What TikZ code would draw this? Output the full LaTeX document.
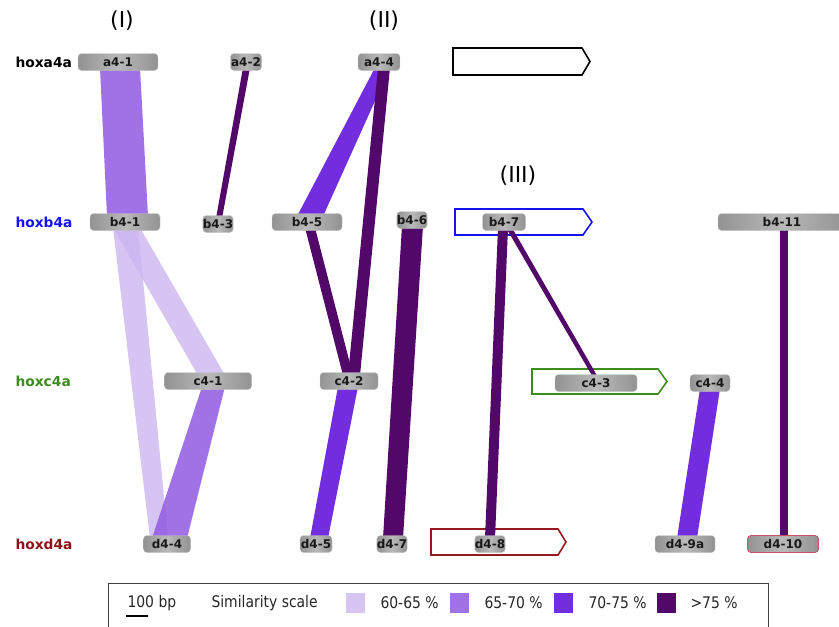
\documentclass[tikz,border=0pt]{standalone}
\usepackage{fontspec}
\setmainfont{DejaVu Sans}
\newfontfamily\legfont[FakeStretch=0.87]{DejaVu Sans}
\usetikzlibrary{calc}
\definecolor{sA}{RGB}{214,196,242}
\definecolor{sB}{RGB}{160,114,230}
\definecolor{sC}{RGB}{114,46,222}
\definecolor{sD}{RGB}{82,8,105}
\definecolor{sAb}{RGB}{204,181,240}
\definecolor{sBb}{RGB}{144,89,226}
\definecolor{hoxb}{RGB}{20,20,240}
\definecolor{hoxc}{RGB}{60,140,30}
\definecolor{hoxd}{RGB}{140,20,25}
\definecolor{redbox}{RGB}{150,25,30}
\definecolor{d410c}{RGB}{200,80,110}
\pgfdeclarelayer{outline}
\pgfdeclarelayer{bands}
\pgfsetlayers{outline,bands,main}
\newcommand{\simband}[7]{%
  \fill[#7] ([xshift=#2pt,yshift=3pt]#1.south) -- ([xshift=#3pt,yshift=3pt]#1.south)
    -- ([xshift=#6pt,yshift=-3pt]#4.north) -- ([xshift=#5pt,yshift=-3pt]#4.north) -- cycle;}
\tikzset{
  gene/.style={rounded corners=3.5pt, minimum height=17pt, inner xsep=0pt, inner ysep=0pt,
    draw=gray!45, left color=gray!85, right color=gray!85, middle color=gray!55,
    font=\bfseries\fontsize{12}{13}\selectfont, text=black!90},
  rowlab/.style={anchor=west, font=\bfseries\fontsize{13.8}{15}\selectfont},
  head/.style={font=\fontsize{22}{24}\selectfont},
  bandA/.style={fill=sAb, fill opacity=0.8},
  bandB/.style={fill=sBb, fill opacity=0.85},
  bandC/.style={fill=sC},
  bandD/.style={fill=sD},
  outl/.style={line width=1.6pt, line join=miter},
  leg/.style={anchor=west, font=\legfont\fontsize{16}{18}\selectfont, text=black!85},
  swatch/.style={minimum width=19pt, minimum height=20pt, inner sep=0pt}
}
\begin{document}
\begin{tikzpicture}[x=1pt,y=-1pt]
\useasboundingbox (0,0) rectangle (839,627);

% headers
\node[head] (h1) at (122,21) {(I)};
\node[head] (h2) at (384,21) {(II)};
\node[head] (h3) at (518,176) {(III)};

% row labels
\node[rowlab] (la) at (12,62) {hoxa4a};
\node[rowlab, text=hoxb] (lb) at (12,222) {hoxb4a};
\node[rowlab, text=hoxc] (lc) at (12,381) {hoxc4a};
\node[rowlab, text=hoxd] (ld) at (12,544) {hoxd4a};

% hollow gene arrows
\begin{pgfonlayer}{outline}
\draw[outl, black] (453,48) -- (582,48) -- (590,61.5) -- (582,75) -- (453,75) -- cycle;
\draw[outl, hoxb] (455,209) -- (583,209) -- (592,222) -- (583,235) -- (455,235) -- cycle;
\draw[outl, hoxc] (532,369) -- (658,369) -- (667,381.5) -- (658,394) -- (532,394) -- cycle;
\draw[outl, redbox] (431,529) -- (558,529) -- (566,542) -- (558,555) -- (431,555) -- cycle;
\end{pgfonlayer}

% gene boxes
\node[gene, minimum width=80pt] (a41) at (118,62) {a4-1};
\node[gene, minimum width=31pt] (a42) at (246,62) {a4-2};
\node[gene, minimum width=42pt] (a44) at (379,62) {a4-4};

\node[gene, minimum width=70pt] (b41) at (125,222) {b4-1};
\node[gene, minimum width=28pt] (b43) at (218,224) {b4-3};
\node[gene, minimum width=70pt] (b45) at (307,222) {b4-5};
\node[gene, minimum width=30pt] (b46) at (412,220) {b4-6};
\node[gene, minimum width=43pt] (b47) at (504,222) {b4-7};
\node[gene, minimum width=128pt] (b411) at (782,222) {b4-11};

\node[gene, minimum width=87pt] (c41) at (208,381) {c4-1};
\node[gene, minimum width=58pt] (c42) at (349,381) {c4-2};
\node[gene, minimum width=82pt] (c43) at (596,383) {c4-3};
\node[gene, minimum width=40pt] (c44) at (710,383) {c4-4};

\node[gene, minimum width=47pt] (d44) at (167,544) {d4-4};
\node[gene, minimum width=32pt] (d45) at (316,544) {d4-5};
\node[gene, minimum width=30pt] (d47) at (392,544) {d4-7};
\node[gene, minimum width=26pt] (d48) at (490,544) {d4-8};
\node[gene, minimum width=60pt] (d49a) at (685,544) {d4-9a};
\node[gene, minimum width=71pt, draw=d410c, line width=0.8pt] (d410) at (783,544) {d4-10};

% similarity bands
\begin{pgfonlayer}{bands}
\simband{b41}{-12}{15}{c41}{-10}{17}{bandA}
\simband{b41}{-12}{13}{d44}{-17}{1}{bandA}
\simband{a41}{-18}{22}{b41}{-18}{23}{bandB}
\simband{c41}{-6}{17}{d44}{-15}{20}{bandB}
\simband{a44}{-4}{11}{b45}{-10}{16}{bandC}
\simband{c42}{-11}{9}{d45}{-6}{12}{bandC}
\simband{c44}{-10}{10}{d49a}{-8}{12}{bandC}
\simband{a42}{-3}{4}{b43}{-2}{4}{bandD}
\simband{a44}{-1}{11}{c42}{-1}{11}{bandD}
\simband{b45}{-2}{8}{c42}{-6}{4}{bandD}
\simband{b46}{-10}{11}{d47}{-9}{11}{bandD}
\simband{b47}{-6}{4}{d48}{-5}{5}{bandD}
\simband{b47}{2}{8}{c43}{-3}{2}{bandD}
\simband{b411}{-2}{6}{d410}{-3}{5}{bandD}
\end{pgfonlayer}

% legend
\draw[line width=1pt, black!75] (108,583) rectangle (768,640);
\node[leg] (bp) at (124,603) {100 bp};
\coordinate (sb1) at (126,616);
\coordinate (sb2) at (148,616);
\draw[line width=1.3pt] (sb1) -- (sb2);
\node[leg] (simsc) at (208,603) {Similarity scale};
\node[swatch, fill=sA] (sw1) at (355.5,602.5) {};
\node[leg] (t1) at (377,603) {60-65 \%};
\node[swatch, fill=sB] (sw2) at (459,602.5) {};
\node[leg] (t2) at (481,603) {65-70 \%};
\node[swatch, fill=sC] (sw3) at (563,602.5) {};
\node[leg] (t3) at (585,603) {70-75 \%};
\node[swatch, fill=sD] (sw4) at (666.5,602.5) {};
\node[leg] (t4) at (687,603) {>75 \%};
\end{tikzpicture}
\end{document}
